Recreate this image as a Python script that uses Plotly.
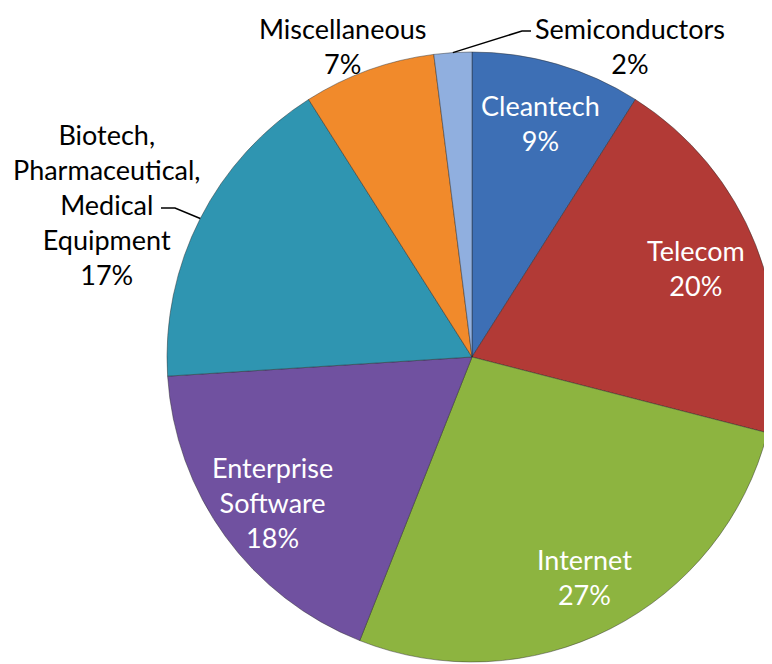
import math
import plotly.graph_objects as go

# share of investments by sector (percent)
sectors = ['Cleantech', 'Telecom', 'Internet', 'Enterprise Software',
           'Biotech, Pharmaceutical, Medical Equipment', 'Miscellaneous', 'Semiconductors']
shares = [9, 20, 27, 18, 17, 7, 2]
label_text = ['Cleantech', 'Telecom', 'Internet', 'Enterprise<br>Software',
              'Biotech,<br>Pharmaceutical,<br>Medical<br>Equipment', 'Miscellaneous', 'Semiconductors']
colors = ['#3D6FB5', '#B23A36', '#8DB440', '#7051A0', '#2F95B1', '#F18A2B', '#90AFDF']

# page body has an 8px margin, so the figure is a bit larger and everything
# below is given in window pixels then shifted
OFF = 8
W, H = 780, 672
font_name = 'Lato'

# pie in window pixels
pie_cx, pie_cy, R = 472, 357, 305


def to_paper(sx, sy):
    return (sx - OFF) / W, 1 - (sy - OFF) / H


def slice_point(i, rf):
    total = sum(shares)
    mid = (sum(shares[:i]) + shares[i] / 2) / total
    ang = 2 * math.pi * mid
    return pie_cx + rf * R * math.sin(ang), pie_cy - rf * R * math.cos(ang)


x0, y1 = to_paper(pie_cx - R, pie_cy - R)
x1, y0 = to_paper(pie_cx + R, pie_cy + R)

fig = go.Figure()
fig.add_trace(go.Pie(
    labels=sectors, values=shares, sort=False, direction='clockwise', rotation=0,
    marker=dict(colors=colors, line=dict(color='rgba(40,40,40,0.45)', width=1)),
    textinfo='none', hoverinfo='label+percent', showlegend=False,
    domain=dict(x=[x0, x1], y=[y0, y1]),
))

annotations = []
# labels inside the bigger slices
inside_r = [0.8, 0.79, 0.81, 0.81]
for i in range(4):
    px, py = slice_point(i, inside_r[i])
    x, y = to_paper(px, py)
    annotations.append(dict(x=x, y=y, xref='paper', yref='paper', showarrow=False,
                            xanchor='center', yanchor='middle',
                            text=label_text[i] + '<br>' + str(shares[i]) + '%',
                            font=dict(family=font_name, size=27, color='white')))

# labels outside the small slices
outside_pos = {4: (106, 204), 5: (342, 46), 6: (630, 46)}
for i, (px, py) in outside_pos.items():
    x, y = to_paper(px, py)
    annotations.append(dict(x=x, y=y, xref='paper', yref='paper', showarrow=False,
                            xanchor='center', yanchor='middle',
                            text=label_text[i] + '<br>' + str(shares[i]) + '%',
                            font=dict(family=font_name, size=27, color='black')))

# leader lines
shapes = []
leaders = {6: [(522, 31), (531, 31)], 4: [(175, 208), (161, 208)]}
for i, pts in leaders.items():
    ex, ey = slice_point(i, 1.0)
    path_pts = [to_paper(ex, ey)] + [to_paper(a, b) for a, b in pts]
    path = 'M ' + ' L '.join('%f,%f' % p for p in path_pts)
    shapes.append(dict(type='path', path=path, xref='paper', yref='paper',
                       line=dict(color='black', width=1.5)))

fig.update_layout(
    width=W, height=H,
    margin=dict(l=0, r=0, t=0, b=0),
    paper_bgcolor='white', plot_bgcolor='white',
    annotations=annotations, shapes=shapes,
    font=dict(family=font_name),
)

fig.write_html("out.html")
